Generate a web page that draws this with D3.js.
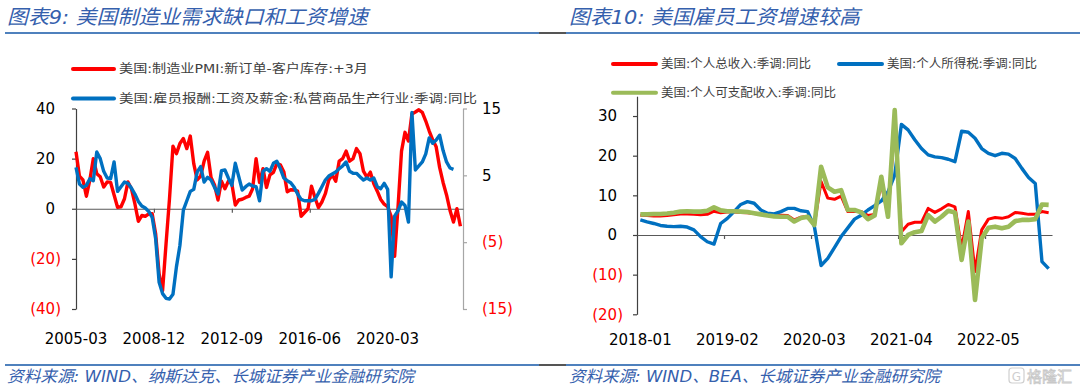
<!DOCTYPE html>
<html>
<head>
<meta charset="utf-8">
<script src="https://cdn.jsdelivr.net/npm/d3@7"></script>
<style>
  body { margin: 0; background: #fff; }
  svg { display: block; }
</style>
</head>
<body>
<div id="chart"></div>
<script>
// ---- left panel: values read every other month, starting 2005-03 ----
const leftTickMonths = [0, 45, 90, 135, 180];
const leftTickLabels = ["2005-03", "2008-12", "2012-09", "2016-06", "2020-03"];
// 美国:制造业PMI:新订单-客户库存:+3月 (left axis)
const pmiGap = [
  22.7, 13, 11.5, 5, 11.5, 20, 14, 12.8, 8.7, 10.7,
  10.5, 5.5, 0.6, 0.8, 4, 10.7, 8, 2, -5, -2.7,
  -3, -2, -2, -10, -26, -32.7, -14, 4, 25, 22,
  26, 28, 24, 29, 18, 11.5, 13, 19, 22.5, 12.5,
  9.5, 3.5, 11, 8, 11, 10, 1.5, 3.5, 3.8, 4.5,
  5, 8, 20, 10.5, 16, 8.5, 13.5, 14.5, 18, 17.5,
  14.8, 6.8, 7.6, 7.5, 7, -3, -1.5, 0, 9, 4.5,
  0.5, 2.7, 6, 11.5, 13.5, 11, 19, 20, 23, 19,
  20, 24, 22, 15, 12.6, 14.6, 10, 7, 3.7, 1.8,
  0.8, -3, -19, 1, 23, 30.5, 27, 37.8, 38.6, 39.5,
  38.5, 35, 31, 27.5, 24.7, 16.5, 10.5, 5.5, -0.7, -5.3,
  0, -7
];
// 美国:雇员报酬:工资及薪金:私营商品生产行业:季调:同比 (right axis)
const wageYoY = [
  6.2, 3.7, 3.2, 3.5, 4.5, 4.2, 8.5, 7.5, 5.6, 4.6,
  4.5, 7.0, 2.6, 3.3, 4.0, 3.8, 3.1, 2.2, 1.1, 0.4,
  0.1, -0.4, -1.3, -4.5, -11, -12.7, -13.4, -13.5, -12.8, -8.7,
  -5.5, -0.2, 1.2, 2.6, 2.9, 5.5, 6.3, 4.0, 4.7, 4.3,
  3.2, 2.2, 5.7, 5.8, 4.6, 3.5, 6.8, 4.8, 2.8, 3.3,
  3.7, 3.4, 3.3, 1.2, 5.6, 6.0, 5.6, 6.8, 7.1, 6.0,
  4.6, 4.2, 3.9, 3.2, 2.2, 1.4, 1.2, 1.2, 1.2, 1.4,
  2.3, 3.3, 4.3, 4.9, 5.2, 5.5, 6.0, 6.4, 7.0, 5.6,
  5.3, 5.3, 4.8, 4.3, 4.6, 4.3, 4.6, 3.3, 3.0, 3.8,
  2.9, -10.2, -1.1, -0.3, 1.0, 0.5, -2.0, 14.4, 5.8, 6.4,
  7.0, 8.2, 10.6, 9.8, 10.3, 11.0, 8.7, 7.0, 6.1, 5.9
];

// ---- right panel: monthly, 2018-01 .. 2023-02 ----
const rightTickIdx = [0, 13, 26, 39, 52];
const rightTickLabels = ["2018-01", "2019-02", "2020-03", "2021-04", "2022-05"];
const incomeYoY = [
  5.0, 4.9, 4.8, 4.8, 4.9, 5.1, 5.3, 5.3, 5.2, 5.1,
  5.2, 6.0, 5.6, 5.8, 5.8, 5.7, 5.6, 5.4, 5.2, 5.0,
  5.0, 5.0, 4.9, 3.8, 4.5, 4.7, 2.6, 13.5, 9.3, 9.0,
  9.8, 5.9, 6.0, 5.9, 4.9, 5.2, 13.0, 4.8, 28.0, 0.8,
  2.7, 3.2, 3.2, 6.7, 5.7, 6.6, 7.7, 7.1, -3.4, 5.9,
  -9.2, 1.3, 4.0, 4.4, 4.2, 4.6, 5.7, 5.5, 5.2, 5.2,
  5.9, 5.6
];
const taxYoY = [
  3.8, 3.3, 2.9, 2.4, 2.2, 2.1, 2.2, 2.0, 1.3, -0.4,
  -1.7, -2.3, 2.9, 4.2, 5.9, 7.7, 8.4, 8.0, 6.3, 5.5,
  5.3, 5.9, 6.7, 6.7, 6.1, 5.9, 2.1, -7.7, -5.9, -3.2,
  -0.4, 1.8, 4.0, 5.0, 6.3, 7.4, 8.6, 10.9, 15.1, 27.9,
  26.5, 24.0, 21.8, 20.2, 19.7, 19.5, 19.1, 18.5, 26.2, 25.9,
  24.4, 21.8, 20.6, 20.0, 20.6, 20.4, 19.3, 16.8, 14.5, 13.0,
  -6.7, -8.5
];
const disposableYoY = [
  5.2, 5.2, 5.3, 5.3, 5.4, 5.6, 5.9, 6.0, 5.9, 5.9,
  6.1, 7.0, 6.2, 6.0, 6.0, 5.9, 5.8, 5.5, 5.2, 4.9,
  4.7, 4.6, 4.6, 3.4, 4.3, 4.6, 2.5, 17.2, 12.0, 10.9,
  11.3, 6.3, 6.3, 5.7, 4.0, 4.9, 14.7, 4.6, 31.5, -2.1,
  0.0, 0.7, 1.0, 5.0, 3.4, 4.6, 6.1, 5.7, -6.3, 3.4,
  -16.4, -0.8, 1.8, 2.1, 1.7, 2.1, 3.5, 3.8, 3.8, 4.0,
  7.7, 7.6
];

const NUM_FONT = '"DejaVu Sans", sans-serif';
const CJK_FONT = '"DejaVu Sans", "Noto Sans CJK SC", sans-serif';
const RED = "#ff0000", BLUE = "#0070c0", GREEN = "#9bbb59";
const TITLE_BLUE = "#3560ad";

const svg = d3.select("#chart").append("svg")
  .attr("width", 1080)
  .attr("height", 388);

// axis helpers
function styleAxis(g, color) {
  g.select(".domain").attr("stroke", color).attr("stroke-width", 1.2);
  g.selectAll(".tick line").attr("stroke", color).attr("stroke-width", 1.2);
  g.selectAll(".tick text").attr("font-family", NUM_FONT).attr("font-size", 15);
}
function bracketLabels(g, pad) {
  g.selectAll(".tick text").each(function (d) {
    const t = d3.select(this).text(null);
    if (d < 0) {
      t.append("tspan").attr("fill", RED).text(`(${-d})`);
    } else {
      t.append("tspan").attr("fill", "#000").text(d);
      if (pad) t.append("tspan").attr("fill-opacity", 0).text(")");
    }
  });
}

// header / footer rules and titles
function rule(y) {
  svg.append("line").attr("x1", 5).attr("x2", 539).attr("y1", y).attr("y2", y)
    .attr("stroke", "#4f81bd").attr("stroke-width", 2);
  svg.append("line").attr("x1", 539).attr("x2", 566).attr("y1", y).attr("y2", y)
    .attr("stroke", "#555").attr("stroke-width", 2);
  svg.append("line").attr("x1", 566).attr("x2", 1080).attr("y1", y).attr("y2", y)
    .attr("stroke", "#4f81bd").attr("stroke-width", 2);
}
rule(33);
rule(365);

function italicText(x, y, str, len, size) {
  svg.append("text")
    .attr("x", x).attr("y", y)
    .attr("font-family", CJK_FONT)
    .attr("font-style", "italic")
    .attr("font-size", size)
    .attr("fill", TITLE_BLUE)
    .attr("textLength", len)
    .attr("lengthAdjust", "spacingAndGlyphs")
    .text(str);
}
italicText(7, 24, "图表9:  美国制造业需求缺口和工资增速", 361, 20);
italicText(569, 24, "图表10:  美国雇员工资增速较高", 291, 20);
italicText(7, 382, "资料来源:  WIND、纳斯达克、长城证券产业金融研究院", 407, 16);
italicText(569, 382, "资料来源:  WIND、BEA、长城证券产业金融研究院", 371, 16);

// watermark
svg.append("rect").attr("x", 1009).attr("y", 368).attr("width", 15).attr("height", 15).attr("rx", 3)
  .attr("fill", "none").attr("stroke", "#cfcfcf").attr("stroke-width", 1.2);
svg.append("text").attr("x", 1016.5).attr("y", 380.5).attr("text-anchor", "middle")
  .attr("font-family", NUM_FONT).attr("font-size", 12).attr("fill", "#cfcfcf").text("G");
svg.append("text").attr("x", 1027).attr("y", 382)
  .attr("font-family", CJK_FONT).attr("font-size", 15)
  .attr("fill", "#fff").attr("stroke", "#c8c8c8").attr("stroke-width", 0.8)
  .text("格隆汇");

// legend helper
function legendItem(x1, x2, y, color, label, len) {
  svg.append("line").attr("x1", x1).attr("x2", x2).attr("y1", y).attr("y2", y)
    .attr("stroke", color).attr("stroke-width", 4).attr("stroke-linecap", "round");
  svg.append("text").attr("x", x2 + 5).attr("y", y + 4.3)
    .attr("font-family", CJK_FONT).attr("font-size", 12).attr("fill", "#404040")
    .attr("textLength", len).attr("lengthAdjust", "spacingAndGlyphs")
    .text(label);
}

// ================= LEFT PANEL =================
const xL = d3.scaleLinear().domain([0, 223.5]).range([76, 463]);
const yL = d3.scaleLinear().domain([-40, 40]).range([309, 108.5]);
const yLr = d3.scaleLinear().domain([-15, 15]).range([309, 108.5]);

const gLy = svg.append("g").attr("transform", "translate(76,0)")
  .call(d3.axisLeft(yL).tickValues([-40, -20, 0, 20, 40]).tickSize(4).tickSizeOuter(0).tickPadding(11));
styleAxis(gLy, "#404040");
bracketLabels(gLy, true);

const gLr = svg.append("g").attr("transform", "translate(463,0)")
  .call(d3.axisRight(yLr).tickValues([-15, -5, 5, 15]).tickSize(4).tickSizeOuter(0).tickPadding(15));
styleAxis(gLr, "#a6a6a6");
bracketLabels(gLr, false);

const gLx = svg.append("g").attr("transform", `translate(0,${yL(0)})`)
  .call(d3.axisBottom(xL).tickValues(leftTickMonths.slice(1)).tickSize(4).tickSizeOuter(0).tickFormat(""));
styleAxis(gLx, "#595959");

svg.append("g").selectAll("text")
  .data(leftTickMonths)
  .enter().append("text")
  .attr("x", d => xL(d)).attr("y", 344)
  .attr("text-anchor", "middle")
  .attr("font-family", NUM_FONT).attr("font-size", 15).attr("fill", "#000")
  .text((d, i) => leftTickLabels[i]);

const lineL = d3.line().x((d, i) => xL(2 * i)).y(d => yL(d)).curve(d3.curveLinear);
const lineLr = d3.line().x((d, i) => xL(2 * i)).y(d => yLr(d)).curve(d3.curveLinear);

svg.append("path").datum(pmiGap)
  .attr("d", lineL).attr("fill", "none").attr("stroke", RED)
  .attr("stroke-width", 3.4).attr("stroke-linejoin", "round");
svg.append("path").datum(wageYoY)
  .attr("d", lineLr).attr("fill", "none").attr("stroke", BLUE)
  .attr("stroke-width", 3.4).attr("stroke-linejoin", "round");

legendItem(73, 114, 69, RED, "美国:制造业PMI:新订单-客户库存:+3月", 249);
legendItem(73, 114, 98.5, BLUE, "美国:雇员报酬:工资及薪金:私营商品生产行业:季调:同比", 358);

// ================= RIGHT PANEL =================
const nR = incomeYoY.length;
const xR = d3.scaleLinear().domain([0, nR]).range([637, 1052]);
const yR = d3.scaleLinear().domain([-20, 35]).range([314.3, 96.2]);

const gRy = svg.append("g").attr("transform", "translate(637,0)")
  .call(d3.axisLeft(yR).tickValues([-20, -10, 0, 10, 20, 30]).tickSize(4).tickSizeOuter(0).tickPadding(10));
styleAxis(gRy, "#404040");
bracketLabels(gRy, true);

const gRx = svg.append("g").attr("transform", `translate(0,${yR(0)})`)
  .call(d3.axisBottom(xR).tickValues(rightTickIdx.slice(1)).tickSize(4).tickSizeOuter(0).tickFormat(""));
styleAxis(gRx, "#595959");

svg.append("g").selectAll("text")
  .data(rightTickIdx)
  .enter().append("text")
  .attr("x", d => xR(d + 0.5)).attr("y", 344.5)
  .attr("text-anchor", "middle")
  .attr("font-family", NUM_FONT).attr("font-size", 15).attr("fill", "#000")
  .text((d, i) => rightTickLabels[i]);

const lineR = d3.line().x((d, i) => xR(i + 0.5)).y(d => yR(d));

svg.append("path").datum(incomeYoY)
  .attr("d", lineR).attr("fill", "none").attr("stroke", RED)
  .attr("stroke-width", 3).attr("stroke-linejoin", "round");
svg.append("path").datum(taxYoY)
  .attr("d", lineR).attr("fill", "none").attr("stroke", BLUE)
  .attr("stroke-width", 3.4).attr("stroke-linejoin", "round");
svg.append("path").datum(disposableYoY)
  .attr("d", lineR).attr("fill", "none").attr("stroke", GREEN)
  .attr("stroke-width", 4.6).attr("stroke-linejoin", "round");

legendItem(613, 656, 64, RED, "美国:个人总收入:季调:同比", 150);
legendItem(839, 882, 64, BLUE, "美国:个人所得税:季调:同比", 150);
legendItem(613, 656, 92.7, GREEN, "美国:个人可支配收入:季调:同比", 175);
</script>
</body>
</html>
